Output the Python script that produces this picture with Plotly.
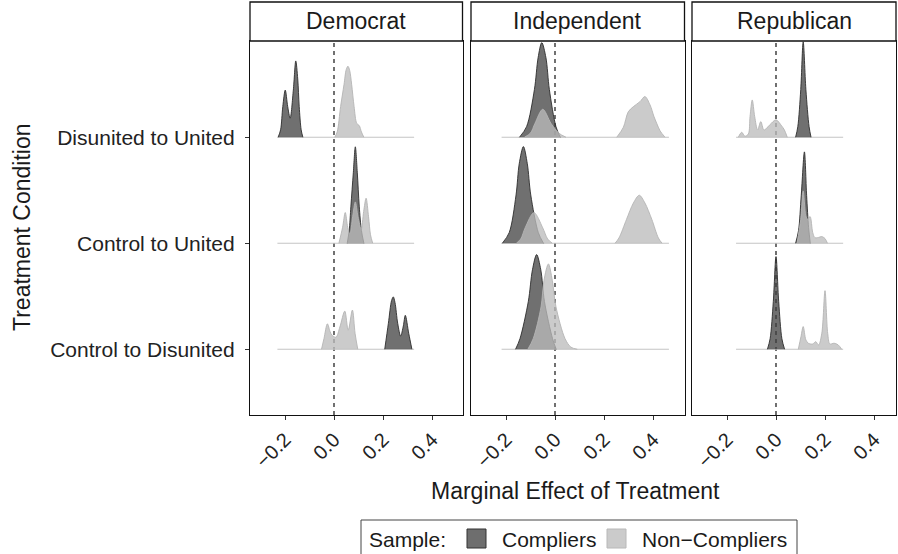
import plotly.graph_objects as go

# ---------------- data ----------------
PARTIES = ["Democrat", "Independent", "Republican"]
CONDITIONS = ["Control to Disunited", "Control to United", "Disunited to United"]  # y = 1, 2, 3
SAMPLES = ["Compliers", "Non\u2212Compliers"]
X_TICKS = [-0.2, 0.0, 0.2, 0.4]
X_TICK_LABELS = ["\u22120.2", "0.0", "0.2", "0.4"]

# range over which the densities were estimated, per party
DEM_RANGE = [-0.231, 0.327]
IND_RANGE = [-0.218, 0.465]
REP_RANGE = [-0.163, 0.274]

# Democrat
DEM_DU_COMP_X = [-0.228, -0.218, -0.209, -0.199, -0.189, -0.179, -0.166, -0.156, -0.148, -0.142, -0.134, -0.127]
DEM_DU_COMP_H = [0, 0.07, 0.29, 0.445, 0.29, 0.18, 0.445, 0.72, 0.55, 0.29, 0.07, 0]
DEM_DU_NON_X = [0.003, 0.013, 0.027, 0.041, 0.050, 0.057, 0.064, 0.072, 0.082, 0.093, 0.103, 0.112, 0.122]
DEM_DU_NON_H = [0, 0.05, 0.29, 0.50, 0.64, 0.67, 0.63, 0.50, 0.29, 0.13, 0.11, 0.05, 0]
DEM_CU_COMP_X = [0.054, 0.062, 0.069, 0.079, 0.087, 0.095, 0.103, 0.112, 0.122]
DEM_CU_COMP_H = [0, 0.12, 0.35, 0.67, 0.91, 0.67, 0.35, 0.12, 0]
DEM_CU_NON_X = [0.020, 0.035, 0.046, 0.056, 0.065, 0.076, 0.087, 0.098, 0.111, 0.121, 0.131, 0.141, 0.149, 0.158]
DEM_CU_NON_H = [0, 0.15, 0.29, 0.15, 0.085, 0.25, 0.39, 0.25, 0.13, 0.30, 0.425, 0.25, 0.08, 0]
DEM_CD_COMP_X = [0.207, 0.222, 0.235, 0.242, 0.249, 0.260, 0.272, 0.283, 0.291, 0.305, 0.318]
DEM_CD_COMP_H = [0, 0.245, 0.46, 0.494, 0.44, 0.245, 0.125, 0.22, 0.32, 0.15, 0]
DEM_CD_NON_X = [-0.051, -0.041, -0.027, -0.016, -0.009, 0.008, 0.024, 0.044, 0.058, 0.075, 0.086, 0.097]
DEM_CD_NON_H = [0, 0.10, 0.24, 0.167, 0.135, 0.113, 0.21, 0.36, 0.18, 0.37, 0.15, 0]

# Independent
IND_DU_COMP_X = [-0.145, -0.116, -0.084, -0.069, -0.054, -0.037, -0.023, 0.004, 0.022]
IND_DU_COMP_H = [0, 0.10, 0.45, 0.75, 0.893, 0.75, 0.45, 0.10, 0]
IND_DU_NON_A_X = [-0.125, -0.100, -0.082, -0.050, -0.016, 0.015, 0.045]
IND_DU_NON_A_H = [0, 0.04, 0.13, 0.264, 0.13, 0.04, 0]
IND_DU_NON_B_X = [0.252, 0.279, 0.299, 0.320, 0.347, 0.367, 0.388, 0.404, 0.415, 0.429, 0.449]
IND_DU_NON_B_H = [0, 0.094, 0.24, 0.289, 0.336, 0.384, 0.305, 0.195, 0.132, 0.06, 0]
IND_CU_COMP_X = [-0.215, -0.187, -0.159, -0.146, -0.129, -0.113, -0.099, -0.068, -0.047]
IND_CU_COMP_H = [0, 0.10, 0.456, 0.75, 0.912, 0.75, 0.456, 0.10, 0]
IND_CU_NON_A_X = [-0.158, -0.140, -0.122, -0.086, -0.050, -0.030, -0.011]
IND_CU_NON_A_H = [0, 0.04, 0.145, 0.289, 0.145, 0.04, 0]
IND_CU_NON_B_X = [0.245, 0.261, 0.292, 0.320, 0.344, 0.367, 0.395, 0.422, 0.437]
IND_CU_NON_B_H = [0, 0.05, 0.226, 0.38, 0.453, 0.38, 0.226, 0.05, 0]
IND_CD_COMP_X = [-0.161, -0.143, -0.109, -0.092, -0.075, -0.058, -0.043, -0.010, 0.005]
IND_CD_COMP_H = [0, 0.10, 0.45, 0.75, 0.893, 0.75, 0.45, 0.10, 0]
IND_CD_NON_X = [-0.111, -0.089, -0.057, -0.045, -0.027, -0.011, 0.004, 0.041, 0.065, 0.091]
IND_CD_NON_H = [0, 0.10, 0.40, 0.65, 0.805, 0.65, 0.40, 0.10, 0.02, 0]

# Republican
REP_DU_COMP_X = [0.080, 0.089, 0.101, 0.111, 0.122, 0.135, 0.143]
REP_DU_COMP_H = [0, 0.10, 0.45, 0.90, 0.45, 0.10, 0]
REP_DU_NON_X = [-0.154, -0.140, -0.127, -0.113, -0.106, -0.097, -0.087, -0.075, -0.062, -0.049, -0.024, 0.000, 0.023, 0.034, 0.046]
REP_DU_NON_H = [0, 0.047, 0.01, 0.03, 0.195, 0.352, 0.195, 0.069, 0.148, 0.069, 0.12, 0.164, 0.107, 0.07, 0]
REP_CU_COMP_X = [0.080, 0.092, 0.103, 0.116, 0.125, 0.133, 0.140]
REP_CU_COMP_H = [0, 0.12, 0.45, 0.862, 0.45, 0.15, 0]
REP_CU_NON_X = [0.086, 0.101, 0.111, 0.122, 0.129, 0.139, 0.150, 0.159, 0.174, 0.187, 0.200, 0.210]
REP_CU_NON_H = [0, 0.226, 0.494, 0.258, 0.226, 0.252, 0.10, 0.053, 0.055, 0.063, 0.044, 0]
REP_CD_COMP_X = [-0.035, -0.024, -0.011, 0.0, 0.011, 0.024, 0.035]
REP_CD_COMP_H = [0, 0.10, 0.45, 0.874, 0.45, 0.10, 0]
REP_CD_NON_X = [0.091, 0.102, 0.111, 0.122, 0.132, 0.150, 0.162, 0.174, 0.187, 0.200, 0.211, 0.220, 0.237, 0.254, 0.268]
REP_CD_NON_H = [0, 0.12, 0.214, 0.088, 0.057, 0.05, 0.072, 0.041, 0.151, 0.553, 0.151, 0.05, 0.057, 0.041, 0]

RANGES = [DEM_RANGE, IND_RANGE, REP_RANGE]
# (party index, condition, sample index, x, height)
CURVES = [
    (0, "Disunited to United", 0, DEM_DU_COMP_X, DEM_DU_COMP_H),
    (0, "Disunited to United", 1, DEM_DU_NON_X, DEM_DU_NON_H),
    (0, "Control to United", 0, DEM_CU_COMP_X, DEM_CU_COMP_H),
    (0, "Control to United", 1, DEM_CU_NON_X, DEM_CU_NON_H),
    (0, "Control to Disunited", 0, DEM_CD_COMP_X, DEM_CD_COMP_H),
    (0, "Control to Disunited", 1, DEM_CD_NON_X, DEM_CD_NON_H),
    (1, "Disunited to United", 0, IND_DU_COMP_X, IND_DU_COMP_H),
    (1, "Disunited to United", 1, IND_DU_NON_A_X, IND_DU_NON_A_H),
    (1, "Disunited to United", 1, IND_DU_NON_B_X, IND_DU_NON_B_H),
    (1, "Control to United", 0, IND_CU_COMP_X, IND_CU_COMP_H),
    (1, "Control to United", 1, IND_CU_NON_A_X, IND_CU_NON_A_H),
    (1, "Control to United", 1, IND_CU_NON_B_X, IND_CU_NON_B_H),
    (1, "Control to Disunited", 0, IND_CD_COMP_X, IND_CD_COMP_H),
    (1, "Control to Disunited", 1, IND_CD_NON_X, IND_CD_NON_H),
    (2, "Disunited to United", 0, REP_DU_COMP_X, REP_DU_COMP_H),
    (2, "Disunited to United", 1, REP_DU_NON_X, REP_DU_NON_H),
    (2, "Control to United", 0, REP_CU_COMP_X, REP_CU_COMP_H),
    (2, "Control to United", 1, REP_CU_NON_X, REP_CU_NON_H),
    (2, "Control to Disunited", 0, REP_CD_COMP_X, REP_CD_COMP_H),
    (2, "Control to Disunited", 1, REP_CD_NON_X, REP_CD_NON_H),
]

# ---------------- styling / layout ----------------
W, H = 898, 554
ML, MR, MT, MB = 250, 2, 41, 139
PW, PH = W - ML - MR, H - MT - MB
FONT = "Liberation Sans, Arial, sans-serif"
FILL = ["rgba(62,62,62,0.74)", "rgba(186,186,186,0.76)"]
LINE = ["#2e2e2e", "#b4b4b4"]
BASE_LINE = "#c4c4c4"


def px2X(px):
    return (px - ML) / PW


def py2Y(py):
    return (MT + PH - py) / PH


PANEL_PX = [(250, 462.5), (471, 684.5), (692, 896)]
ZERO_PX = [334, 555, 776]
PX_PER_UNIT = 245.0
Y_RANGE = [0.38, 3.908]

fig = go.Figure()
axn = ["", "2", "3"]


def ypos(cond):
    return CONDITIONS.index(cond) + 1


# baselines
for p in range(3):
    for cond in CONDITIONS:
        b = ypos(cond)
        fig.add_trace(go.Scatter(x=RANGES[p], y=[b, b], mode="lines",
                                 line=dict(color=BASE_LINE, width=1.1),
                                 xaxis="x" + axn[p], yaxis="y" + axn[p],
                                 hoverinfo="skip", showlegend=False))

for (p, cond, s, xs, hs) in CURVES:
    b = ypos(cond)
    fig.add_trace(go.Scatter(x=[xs[0], xs[-1]], y=[b, b], mode="lines",
                             line=dict(width=0, color="rgba(0,0,0,0)"),
                             xaxis="x" + axn[p], yaxis="y" + axn[p],
                             hoverinfo="skip", showlegend=False))
    fig.add_trace(go.Scatter(x=xs, y=[b + h for h in hs], mode="lines",
                             line=dict(color=LINE[s], width=0.9, shape="spline", smoothing=0.9),
                             fill="tonexty", fillcolor=FILL[s],
                             xaxis="x" + axn[p], yaxis="y" + axn[p],
                             name=SAMPLES[s], hoverinfo="skip", showlegend=False))

layout = dict(
    width=W, height=H,
    margin=dict(l=ML, r=MR, t=MT, b=MB),
    paper_bgcolor="white", plot_bgcolor="white",
    font=dict(family=FONT, color="#222222"),
    showlegend=False,
)
for p in range(3):
    x0px, x1px = PANEL_PX[p]
    rng = [(x0px - ZERO_PX[p]) / PX_PER_UNIT, (x1px - ZERO_PX[p]) / PX_PER_UNIT]
    layout["xaxis" + axn[p]] = dict(
        domain=[px2X(x0px), px2X(x1px)], range=rng, anchor="y" + axn[p],
        tickvals=X_TICKS, ticktext=X_TICK_LABELS, tickangle=-45,
        ticks="outside", ticklen=4, tickwidth=1, tickcolor="#333333",
        tickfont=dict(size=20, color="#222222", family=FONT),
        showline=True, mirror=True, linecolor="#111111", linewidth=1.3,
        showgrid=False, zeroline=False, fixedrange=True,
    )
    layout["yaxis" + axn[p]] = dict(
        domain=[0, 1], range=Y_RANGE, anchor="x" + axn[p],
        tickvals=[1, 2, 3], ticktext=CONDITIONS if p == 0 else ["", "", ""],
        ticks="outside" if p == 0 else "", ticklen=4, tickwidth=1, tickcolor="#333333",
        ticklabelstandoff=6,
        tickfont=dict(size=21, color="#222222", family=FONT),
        showline=True, mirror=True, linecolor="#111111", linewidth=1.3,
        showgrid=False, zeroline=False, fixedrange=True,
    )

shapes = []
annotations = []
for p in range(3):
    x0px, x1px = PANEL_PX[p]
    shapes.append(dict(type="rect", xref="paper", yref="paper",
                       x0=px2X(x0px), x1=px2X(x1px), y0=py2Y(41), y1=py2Y(2),
                       line=dict(color="#111111", width=1.3), fillcolor="white", layer="above"))
    annotations.append(dict(text=PARTIES[p], xref="paper", yref="paper",
                            x=px2X((x0px + x1px) / 2), y=py2Y(21.5), showarrow=False,
                            xanchor="center", yanchor="middle",
                            font=dict(size=23, color="#1a1a1a", family=FONT)))
    shapes.append(dict(type="line", xref="x" + axn[p], yref="paper",
                       x0=0, x1=0, y0=0, y1=1,
                       line=dict(color="#111111", width=1.2, dash="4px,4px"), layer="below"))

annotations.append(dict(text="Marginal Effect of Treatment", xref="paper", yref="paper",
                        x=px2X(575), y=py2Y(491), showarrow=False,
                        xanchor="center", yanchor="middle",
                        font=dict(size=23, color="#1a1a1a", family=FONT)))
annotations.append(dict(text="Treatment Condition", xref="paper", yref="paper",
                        x=px2X(22), y=py2Y(227), showarrow=False, textangle=-90,
                        xanchor="center", yanchor="middle",
                        font=dict(size=23, color="#1a1a1a", family=FONT)))

# legend (drawn manually)
shapes.append(dict(type="rect", xref="paper", yref="paper",
                   x0=px2X(361), x1=px2X(797), y0=py2Y(558), y1=py2Y(520),
                   line=dict(color="#444444", width=1), fillcolor="white"))
annotations.append(dict(text="Sample:", xref="paper", yref="paper", x=px2X(367), y=py2Y(539),
                        showarrow=False, xanchor="left", yanchor="middle",
                        font=dict(size=21, color="#1a1a1a", family=FONT)))
LEG_KEY_PX = [(467, 500), (607, 640)]
LEG_KEY_FILL = ["#6e6e6e", "#cbcbcb"]
LEG_KEY_LINE = ["#333333", "#b8b8b8"]
for s in range(2):
    kx, tx = LEG_KEY_PX[s]
    shapes.append(dict(type="rect", xref="paper", yref="paper",
                       x0=px2X(kx), x1=px2X(kx + 19), y0=py2Y(548), y1=py2Y(529),
                       line=dict(color=LEG_KEY_LINE[s], width=1), fillcolor=LEG_KEY_FILL[s]))
    annotations.append(dict(text=SAMPLES[s], xref="paper", yref="paper", x=px2X(tx), y=py2Y(539),
                            showarrow=False, xanchor="left", yanchor="middle",
                            font=dict(size=21, color="#1a1a1a", family=FONT)))

layout["shapes"] = shapes
layout["annotations"] = annotations
fig.update_layout(**layout)
fig.write_html("out.html")
